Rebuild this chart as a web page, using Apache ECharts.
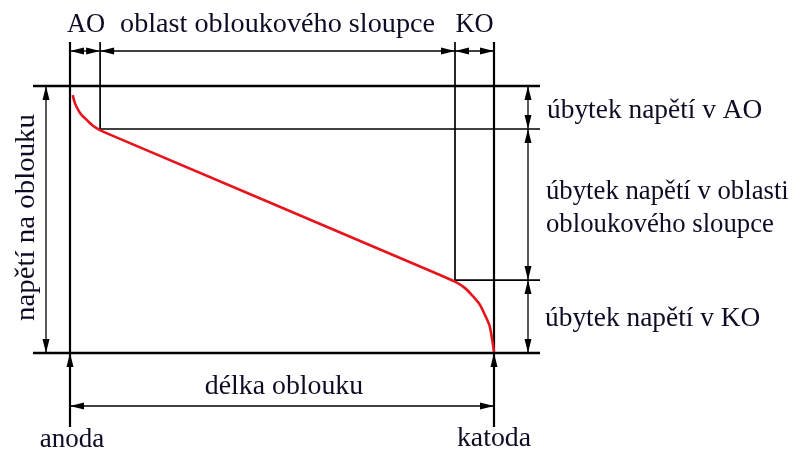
<!DOCTYPE html>
<html><head><meta charset="utf-8">
<script src="https://cdn.jsdelivr.net/npm/echarts@6/dist/echarts.min.js"></script>
<style>html,body{margin:0;padding:0;background:#fff}#c{width:802px;height:452px}</style>
</head><body><div id="c"></div>
<script>
// ---- data ----
const regionLabels = ['AO', 'oblast obloukového sloupce', 'KO'];
const regionBounds = [0, 7.1, 90.8, 100];          // délka oblouku (relative)
const dropLabels = ['úbytek napětí v AO', 'úbytek napětí v oblasti\nobloukového sloupce', 'úbytek napětí v KO'];
const voltageLevels = [100, 83.9, 27.3, 0];         // napětí (relative)
const arcLength  = [0.64, 1.18, 1.96, 2.76, 3.94, 5.49, 7.08, 9.43, 87.26, 90.80, 93.16, 95.12, 96.70, 97.88, 98.89, 99.46, 99.83, 100];
const arcVoltage = [96.6, 93.5, 91.0, 89.1, 87.3, 85.0, 83.5, 81.8, 29.2, 26.7, 24.3, 21.1, 18.0, 14.2, 10.5, 6.1, 2.4, 0.4];
const axisTitleX = 'délka oblouku';
const axisTitleY = 'napětí na oblouku';
const endLabels = ['anoda', 'katoda'];

const curveData = arcLength.map((v, i) => [v, arcVoltage[i]]);
const FONT = '27px "Liberation Serif", "Times New Roman", serif';
const INK = '#0c0c24';

function renderDiagram(params, api) {
  const X = v => api.coord([v, 0])[0];
  const Y = v => api.coord([0, v])[1];
  const ch = [];
  const line = (x1, y1, x2, y2, w) => ch.push({type: 'line', shape: {x1, y1, x2, y2}, style: {stroke: '#000', lineWidth: w}});
  const head = (tx, ty, dx, dy) => {
    const L = 14, H = 3.5, bx = tx - dx * L, by = ty - dy * L, px = -dy, py = dx;
    ch.push({type: 'polygon', shape: {points: [[tx, ty], [bx + px * H, by + py * H], [bx - px * H, by - py * H]]}, style: {fill: '#000'}});
  };
  const dim = (x1, y1, x2, y2) => {
    line(x1, y1, x2, y2, 1.3);
    const d = Math.hypot(x2 - x1, y2 - y1), ux = (x2 - x1) / d, uy = (y2 - y1) / d;
    head(x1, y1, -ux, -uy); head(x2, y2, ux, uy);
  };
  const text = (s, x, y, align, sx, extra) => ch.push(Object.assign({
    type: 'text', x, y, scaleX: sx,
    style: {text: s, font: FONT, fill: INK, align: align, verticalAlign: 'middle', lineHeight: 33}
  }, extra || {}));

  const xL = X(regionBounds[0]), xA = X(regionBounds[1]), xK = X(regionBounds[2]), xR = X(regionBounds[3]);
  const yT = Y(voltageLevels[0]), yA = Y(voltageLevels[1]), yK = Y(voltageLevels[2]), yB = Y(voltageLevels[3]);
  const extL = xL - 37, extR = xR + 46, topExt = yT - 44, botExt = yB + 74;
  const dimTopY = yT - 35, dimRightX = xR + 34, dimLeftX = xL - 24, dimBotY = yB + 53;

  // frame + guide lines
  line(extL, yT, extR, yT, 2.6);
  line(extL, yB, extR, yB, 2.6);
  line(xL, topExt, xL, botExt, 2.2);
  line(xR, topExt, xR, botExt, 2.2);
  line(xA, topExt, xA, yA, 1.7);
  line(xA, yA, extR, yA, 1.7);
  line(xK, topExt, xK, yK, 1.7);
  line(xK, yK, extR, yK, 1.7);
  // dimensions
  dim(xL, dimTopY, xA, dimTopY);
  dim(xA, dimTopY, xK, dimTopY);
  dim(xK, dimTopY, xR, dimTopY);
  dim(dimRightX, yT, dimRightX, yA);
  dim(dimRightX, yA, dimRightX, yK);
  dim(dimRightX, yK, dimRightX, yB);
  dim(dimLeftX, yT, dimLeftX, yB);
  dim(xL, dimBotY, xR, dimBotY);
  head(xL, yB, 0, -1);
  head(xR, yB, 0, -1);

  // texts
  text(regionLabels[0], (xL + xA) / 2 + 1, 25, 'center', 0.98);
  text(regionLabels[1], (xA + xK) / 2, 25, 'center', 1.045);
  text(regionLabels[2], (xK + xR) / 2, 25, 'center', 0.98);
  text(dropLabels[0], dimRightX + 19, (yT + yA) / 2 + 3, 'left', 1.015);
  text(dropLabels[1], dimRightX + 18, (yA + yK) / 2 + 4, 'left', 0.99);
  text(dropLabels[2], dimRightX + 17, (yK + yB) / 2 + 2, 'left', 1.015);
  text(axisTitleX, (xL + xR) / 2 + 2, dimBotY - 19, 'center', 1.03);
  text(endLabels[0], xL + 2, botExt + 13, 'center', 1.0);
  text(endLabels[1], xR, botExt + 12, 'center', 1.03);
  text(axisTitleY, dimLeftX - 19, (yT + yB) / 2 - 2, 'center', 1.07, {rotation: Math.PI / 2});

  return {type: 'group', children: ch};
}

const chart = echarts.init(document.getElementById('c'), null, {renderer: 'canvas'});
chart.setOption({
  animation: false,
  backgroundColor: '#fff',
  grid: {left: 70, right: 308, top: 86, bottom: 99},
  xAxis: {type: 'value', min: 0, max: 100, show: false},
  yAxis: {type: 'value', min: 0, max: 100, show: false},
  series: [
    {type: 'custom', coordinateSystem: 'cartesian2d', data: [[0, 0]], renderItem: renderDiagram, silent: true, z: 1},
    {type: 'line', data: curveData, showSymbol: false, smooth: 0.3, lineStyle: {color: '#e8141c', width: 2.6}, z: 3, silent: true}
  ]
});
</script></body></html>
